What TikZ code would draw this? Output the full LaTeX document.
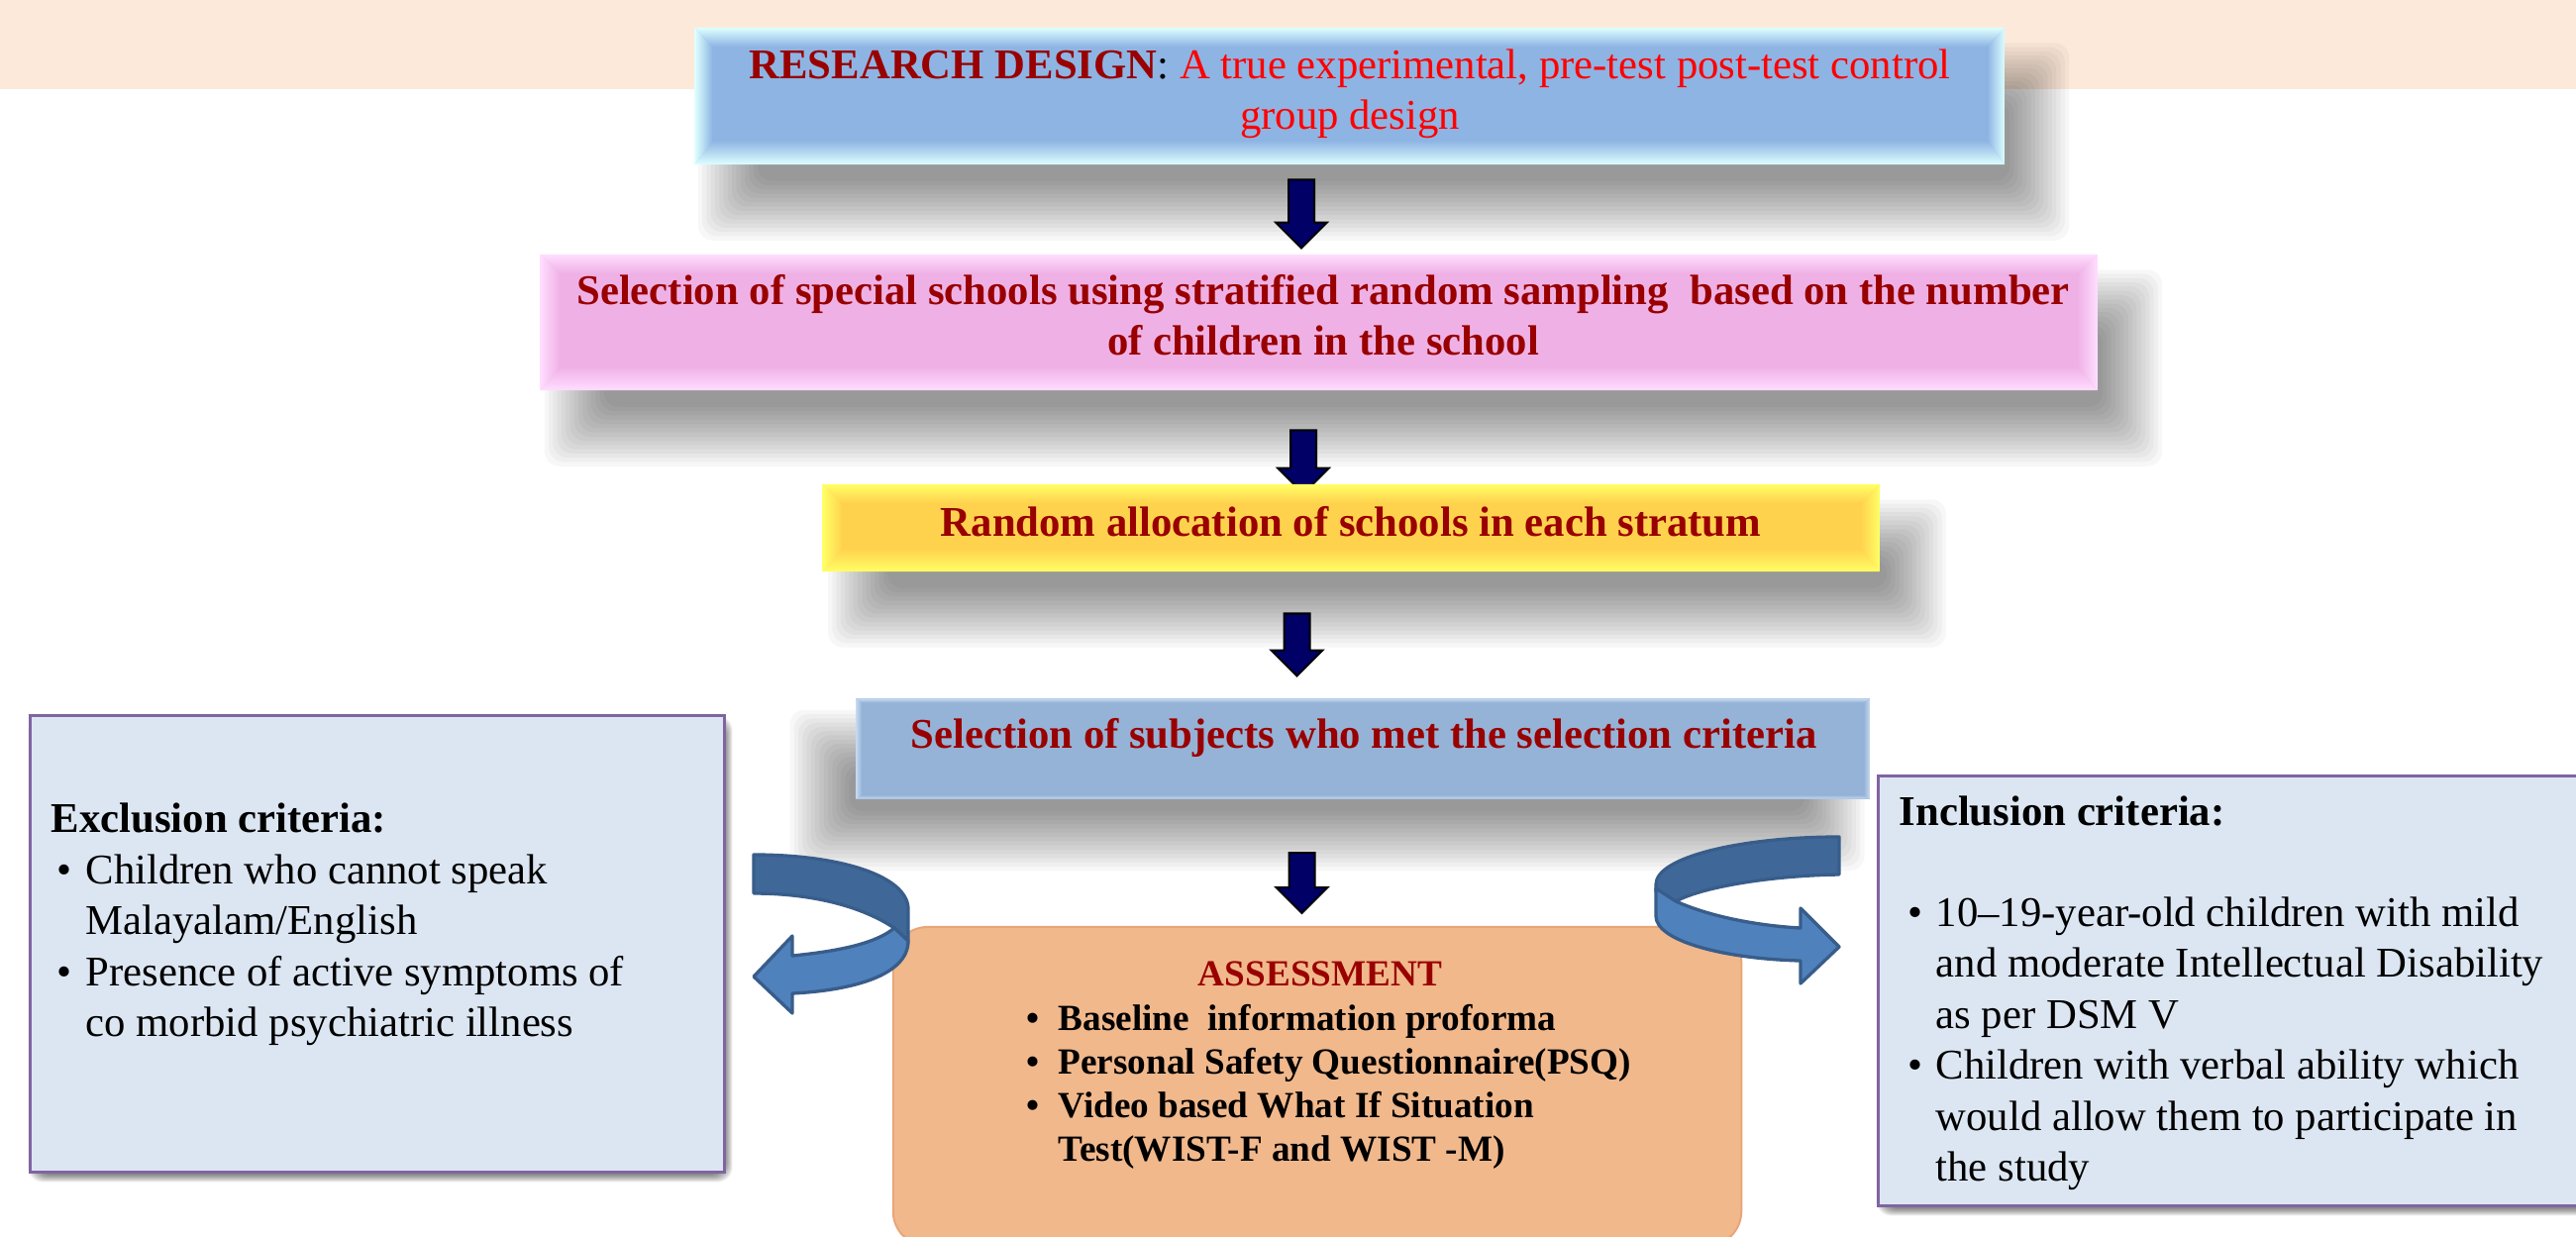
\documentclass[tikz,border=0pt]{standalone}
\usepackage{fontspec}
\setmainfont{Liberation Serif}
\usetikzlibrary{shapes.arrows}
\pgfdeclarelayer{bottom}
\pgfdeclarelayer{background}
\pgfsetlayers{bottom,background,main}
\definecolor{band}{HTML}{FDE9D9}
\definecolor{b1main}{HTML}{8EB4E3}
\definecolor{b1light}{HTML}{DDFFFF}
\definecolor{b2main}{HTML}{EFB1E5}
\definecolor{b2light}{HTML}{FFDDFF}
\definecolor{b3main}{HTML}{FFD24E}
\definecolor{b3light}{HTML}{FFFF66}
\definecolor{b4main}{HTML}{95B3D7}
\definecolor{b4light}{HTML}{C6D9F1}
\definecolor{dred}{HTML}{990000}
\definecolor{bred}{HTML}{FF0000}
\definecolor{navyarr}{HTML}{000066}
\definecolor{critfill}{HTML}{DCE6F2}
\definecolor{critline}{HTML}{8064A2}
\definecolor{assfill}{HTML}{F1B88C}
\definecolor{assline}{HTML}{E8A678}
\definecolor{cdarkc}{HTML}{3F6899}
\definecolor{clightc}{HTML}{4F81BD}
\definecolor{clinec}{HTML}{385D8A}
\newcommand{\fsz}[2]{\fontsize{#1}{#2}\selectfont}
% soft shadow: node, dx, dy, radius, step opacity
\newcommand{\softshadow}[5]{%
  \foreach \i in {0,...,14}{%
    \fill[black, opacity=#5, rounded corners=0.15cm]
      ([shift={(#2-#4+\i*#4/7, #3-#4+\i*#4/7)}]#1.north west) rectangle
      ([shift={(#2+#4-\i*#4/7, #3+#4-\i*#4/7)}]#1.south east);
  }}
\tikzset{
  bevel/.style n args={5}{draw=none, inner sep=0pt, fill=#1,
    path picture={
      \path (path picture bounding box.north west) coordinate (pnw)
            (path picture bounding box.north east) coordinate (pne)
            (path picture bounding box.south west) coordinate (psw)
            (path picture bounding box.south east) coordinate (pse);
      \shade[top color=#2, bottom color=#1] (pnw) -- (pne) -- ([shift={(-#3,#4)}]pne) -- ([shift={(#3,#4)}]pnw) -- cycle;
      \shade[top color=#1, bottom color=#2] (psw) -- (pse) -- ([shift={(-#3,-#5)}]pse) -- ([shift={(#3,-#5)}]psw) -- cycle;
      \shade[left color=#2, right color=#1] (pnw) -- ([shift={(#3,#4)}]pnw) -- ([shift={(#3,-#5)}]psw) -- (psw) -- cycle;
      \shade[left color=#1, right color=#2] (pne) -- ([shift={(-#3,#4)}]pne) -- ([shift={(-#3,-#5)}]pse) -- (pse) -- cycle;
    }},
  maintxt/.style={font=\fsz{12.15}{14.4}, inner sep=0pt, align=center},
  crittxt/.style={font=\fsz{12.15}{14.65}, inner sep=0pt, align=left, text=black},
  asstxt/.style={font=\fsz{10.58}{12.6}, inner sep=0pt, align=left, text=black},
  critbox/.style={rectangle, draw=critline, line width=0.03cm, fill=critfill, inner sep=0pt},
  assessbox/.style={rectangle, rounded corners=0.35cm, draw=assline, line width=0.02cm, fill=assfill, inner sep=0pt},
  downarr/.style={single arrow, draw=black, fill=navyarr, line width=0.02cm, inner sep=0.12cm,
    single arrow head extend=0.13cm, single arrow tip angle=90, single arrow head indent=0cm, rotate=-90},
  cdark/.style={fill=cdarkc, draw=clinec, line width=0.033cm, line join=round},
  clight/.style={fill=clightc, draw=clinec, line width=0.033cm, line join=round},
}
\begin{document}
\begin{tikzpicture}[x=0.01cm,y=-0.01cm]
\useasboundingbox (0,0) rectangle (2601,1248);
\begin{pgfonlayer}{bottom}
\fill[white] (0,0) rectangle (2601,1248);
\fill[band] (0,0) rectangle (2601,90);
\end{pgfonlayer}

% box 1
\node[bevel={b1main}{b1light}{18}{19}{24}, minimum width=13.22cm, minimum height=1.38cm] (b1) at (1363,97) {};
\node[maintxt, text=black] (t1) at (1363,95) {\textcolor{dred}{\bfseries RESEARCH DESIGN}: \textcolor{bred}{A true experimental, pre-test post-test control}\\\textcolor{bred}{group design}};

\node[downarr, minimum height=0.69cm] (a1) at (1314,209.5) {};

% box 2
\node[bevel={b2main}{b2light}{20}{19}{24}, minimum width=15.71cm, minimum height=1.37cm] (b2) at (1331.5,325.5) {};
\node[maintxt, text=dred] (t2) at (1336,318) {\bfseries Selection of special schools using stratified random sampling\ \ based on the number\\\bfseries of children in the school};

\node[downarr, minimum height=0.64cm] (a2) at (1316,460) {};

% box 3
\node[bevel={b3main}{b3light}{20}{19}{23}, minimum width=10.67cm, minimum height=0.88cm] (b3) at (1364.5,533) {};
\node[maintxt, anchor=base, text=dred] (t3) at (1364,541) {\bfseries Random allocation of schools in each stratum};

\node[downarr, minimum height=0.63cm] (a3) at (1309.5,644.5) {};

% box 4
\node[bevel={b4main}{b4light}{6}{4}{4}, minimum width=10.23cm, minimum height=1.01cm] (b4) at (1376,756) {};
\node[maintxt, anchor=base, text=dred] (t4) at (1377,755) {\bfseries Selection of subjects who met the selection criteria};

\node[downarr, minimum height=0.61cm] (a4) at (1314.5,885) {};

% exclusion
\node[critbox, minimum width=7.00cm, minimum height=4.60cm] (exc) at (381,953) {};
\node[crittxt, anchor=base west] (exct) at (51,840) {\bfseries Exclusion criteria:};
\node[crittxt, anchor=base west] (excl) at (57,892) {\begin{tabular}[t]{@{}p{0.29cm}@{}l@{}}
\textbullet & Children who cannot speak\\
 & Malayalam/English\\
\textbullet & Presence of active symptoms of\\
 & co morbid psychiatric illness
\end{tabular}};

% inclusion
\node[critbox, minimum width=7.33cm, minimum height=4.33cm] (inc) at (2263.5,1000.5) {};
\node[crittxt, anchor=base west] (inct) at (1917,833) {\bfseries Inclusion criteria:};
\node[crittxt, anchor=base west] (incl) at (1926,935) {\begin{tabular}[t]{@{}p{0.28cm}@{}l@{}}
\textbullet & 10–19-year-old children with mild\\
 & and moderate Intellectual Disability\\
 & as per DSM V\\
\textbullet & Children with verbal ability which\\
 & would allow them to participate in\\
 & the study
\end{tabular}};

% assessment
\node[assessbox, minimum width=8.56cm, minimum height=3.22cm] (as) at (1330,1097) {};
\node[asstxt, anchor=base, text=dred] (ast) at (1333,995) {\bfseries ASSESSMENT};
\node[asstxt, anchor=base west] (asl) at (1036,1040) {\bfseries\begin{tabular}[t]{@{}p{0.32cm}@{}l@{}}
\textbullet & Baseline\ \ information proforma\\
\textbullet & Personal Safety Questionnaire(PSQ)\\
\textbullet & Video based What If Situation\\
 & Test(WIST-F and WIST -M)
\end{tabular}};

% left curved arrow
\path[cdark] (761,863) .. controls (850,863) and (917,885) .. (917,918) -- (917,950) -- (903,937) .. controls (870,915) and (820,902) .. (761,902) -- cycle;
\path[clight] (903,937) -- (917,950) .. controls (917,985) and (860,1000) .. (800,1003) -- (800,1023) -- (761,986) -- (800,945) -- (800,965) .. controls (850,960) and (885,952) .. (903,937) -- cycle;

% right curved arrow
\path[cdark] (1857,845) .. controls (1760,845) and (1672,865) .. (1672,893) -- (1672,900) -- (1692,910) .. controls (1720,895) and (1790,884) .. (1857,883) -- cycle;
\path[clight] (1672,897) -- (1692,910) .. controls (1730,927) and (1780,935) .. (1818,937) -- (1818,917) -- (1857,956) -- (1818,993) -- (1818,970) .. controls (1740,968) and (1672,950) .. (1672,925) -- cycle;

% shadows
\begin{pgfonlayer}{background}
\softshadow{b1}{34}{46}{30}{0.031}
\softshadow{b2}{35}{46}{30}{0.031}
\softshadow{b3}{36}{46}{30}{0.031}
\softshadow{b4}{-36}{42}{30}{0.031}
\softshadow{exc}{3}{5}{4}{0.04}
\softshadow{inc}{3}{5}{4}{0.04}
\end{pgfonlayer}
\end{tikzpicture}
\end{document}
